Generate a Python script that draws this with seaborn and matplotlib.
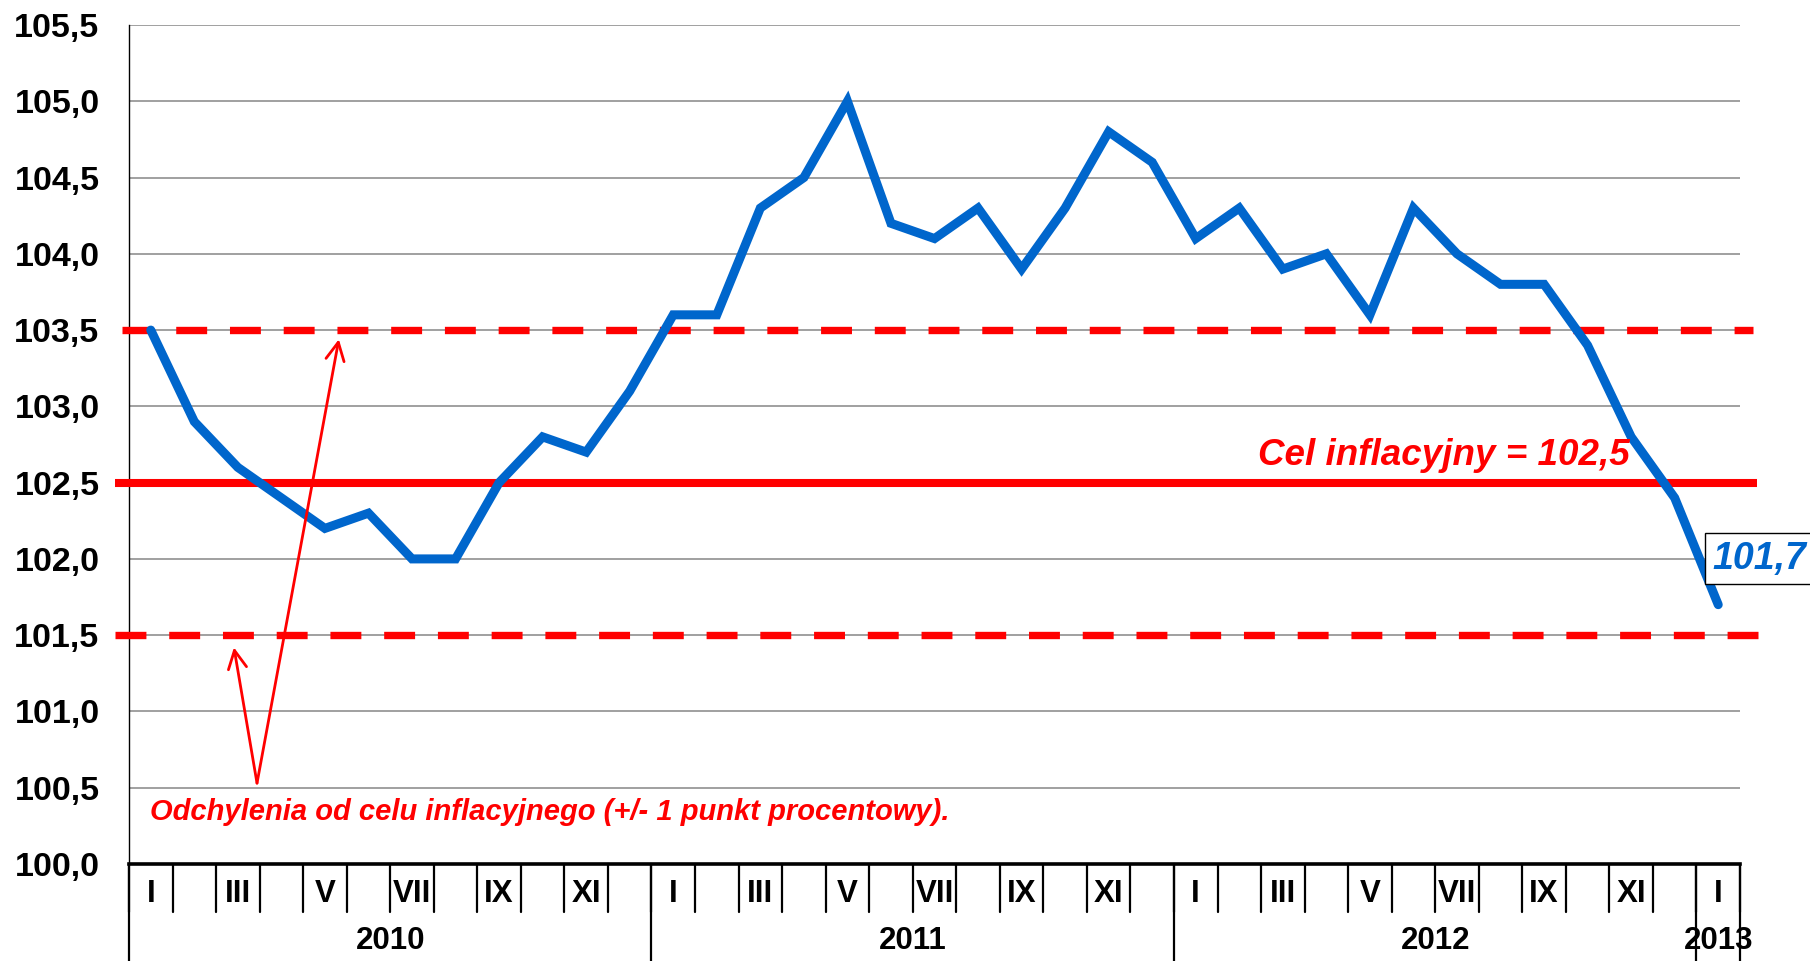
import numpy as np
import pandas as pd
import matplotlib
matplotlib.use("Agg")
import matplotlib.pyplot as plt
import matplotlib.transforms as mtransforms
import seaborn as sns

# Monthly CPI (same month previous year = 100), Jan 2010 - Jan 2013
years = ["2010", "2011", "2012", "2013"]
months_per_year = [12, 12, 12, 1]
roman = ["I", "II", "III", "IV", "V", "VI", "VII", "VIII", "IX", "X", "XI", "XII"]
cpi = [103.5, 102.9, 102.6, 102.4, 102.2, 102.3, 102.0, 102.0, 102.5, 102.8, 102.7, 103.1,
       103.6, 103.6, 104.3, 104.5, 105.0, 104.2, 104.1, 104.3, 103.9, 104.3, 104.8, 104.6,
       104.1, 104.3, 103.9, 104.0, 103.6, 104.3, 104.0, 103.8, 103.8, 103.4, 102.8, 102.4,
       101.7]
target = 102.5
band = 1.0
y_ticks = np.arange(100.0, 105.51, 0.5)

target_label = "Cel inflacyjny = 102,5"
band_label = "Odchylenia od celu inflacyjnego (+/- 1 punkt procentowy)."

# month labels: every second month is printed
month_names = []
for n in months_per_year:
    for m in range(n):
        month_names.append(roman[m] if m % 2 == 0 else "")

df = pd.DataFrame({"idx": np.arange(len(cpi)), "cpi": cpi})

sns.set_theme(style="white")
plt.rcParams["font.family"] = ["Liberation Sans", "DejaVu Sans"]
plt.rcParams["font.weight"] = "bold"

RED = "#FF0000"
BLUE = "#0066CC"

fig = plt.figure(figsize=(18.1, 9.61), dpi=100)
ax = fig.add_axes([129 / 1810, 1 - 864 / 961, (1740 - 129) / 1810, (864 - 25) / 961])

ax.set_xlim(-0.5, len(cpi) - 0.5)
ax.set_ylim(y_ticks[0], y_ticks[-1])
ax.set_yticks(y_ticks)
ax.set_yticklabels([f"{v:.1f}".replace(".", ",") for v in y_ticks])
ax.set_xticks([])
ax.yaxis.grid(True, color="#a0a0a0", lw=1.4, zorder=0)
ax.set_axisbelow(True)
for s in ("top", "right"):
    ax.spines[s].set_visible(False)
ax.spines["left"].set_color("black")
ax.spines["left"].set_linewidth(1.0)
ax.spines["bottom"].set_color("black")
ax.spines["bottom"].set_linewidth(2.6)
ax.tick_params(axis="y", direction="out", length=7.2, width=1.0, color="black",
               pad=14, labelsize=24.5, labelcolor="black")
for t in ax.get_yticklabels():
    t.set_fontweight("bold")

# tolerance band and inflation target
n = len(cpi)
ax.plot([-0.66, n - 0.2], [target + band] * 2, color=RED, lw=5.3,
        dashes=(4.2, 3.1), solid_capstyle="butt", dash_capstyle="butt",
        clip_on=False, zorder=3)
ax.plot([-0.82, n - 0.08], [target - band] * 2, color=RED, lw=5.3,
        dashes=(4.2, 3.1), solid_capstyle="butt", dash_capstyle="butt",
        clip_on=False, zorder=3)
ax.plot([-0.82, n - 0.11], [target, target], color=RED, lw=5.8,
        solid_capstyle="butt", clip_on=False, zorder=3)

# CPI series
sns.lineplot(data=df, x="idx", y="cpi", ax=ax, color=BLUE, lw=6.5,
             solid_capstyle="round", solid_joinstyle="miter", zorder=4, legend=False)
ax.set_xlabel("")
ax.set_ylabel("")

# category axis: month ticks, month labels, year groups
trans = mtransforms.blended_transform_factory(ax.transData, ax.transAxes)
ax_h = 864 - 25
for b in range(n + 1):
    ax.plot([b - 0.5, b - 0.5], [0, -48 / ax_h], transform=trans, color="black",
            lw=1.6, clip_on=False, zorder=5)
for i, lab in enumerate(month_names):
    if lab:
        ax.text(i, -30 / ax_h, lab, transform=trans, ha="center", va="center",
                fontsize=22.5, fontweight="bold", color="black")
start = 0
for yr, cnt in zip(years, months_per_year):
    ax.plot([start - 0.5, start - 0.5], [0, -100 / ax_h], transform=trans,
            color="black", lw=1.6, clip_on=False, zorder=5)
    ax.text(start + (cnt - 1) / 2, -77 / ax_h, yr, transform=trans, ha="center",
            va="center", fontsize=22.5, fontweight="bold", color="black", zorder=4)
    start += cnt
ax.plot([start - 0.5, start - 0.5], [0, -100 / ax_h], transform=trans,
        color="black", lw=1.6, clip_on=False, zorder=5)

# annotations
ax.text(33.97, 102.614, target_label, ha="right", va="baseline", fontsize=26.5,
        fontweight="bold", fontstyle="italic", color=RED, zorder=6)
ax.text(-0.02, 100.344, band_label, ha="left", va="center", fontsize=21,
        fontweight="bold", fontstyle="italic", color=RED, zorder=6)
tail = (2.44, 100.53)
for head in [(1.91, 101.42), (4.32, 103.44)]:
    ax.annotate("", xy=head, xytext=tail,
                arrowprops=dict(arrowstyle="->,head_length=0.65,head_width=0.33",
                                color=RED, lw=2.0, mutation_scale=20,
                                shrinkA=0, shrinkB=0), zorder=6)

last = cpi[-1]
ax.text(35.87, last + 0.3, f"{last:.1f}".replace(".", ","), ha="left", va="center",
        fontsize=27, fontweight="bold", fontstyle="italic", color=BLUE, zorder=7,
        clip_on=False,
        bbox=dict(boxstyle="square,pad=0.2", fc="white", ec="black", lw=1.0))

fig.savefig("out.png", dpi=100, facecolor="white")
